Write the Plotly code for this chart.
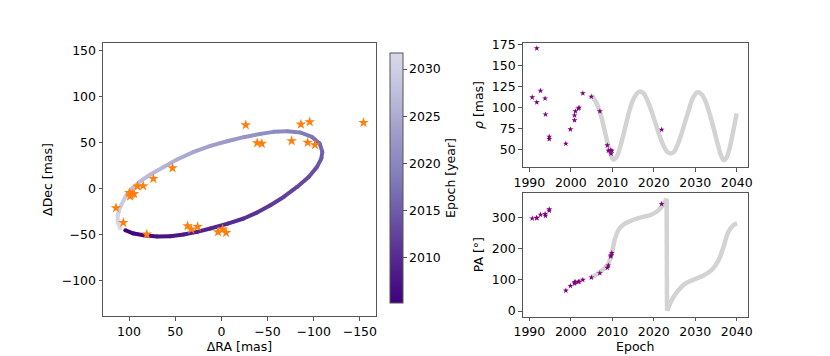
import numpy as np
import plotly.graph_objects as go
from plotly.colors import sample_colorscale

# relative astrometry, orange stars (mas)
ra_obs = [114.1, 106.2, 99.6, 98.2, 96.7, 98.9, 94.6, 90.9, 84.8, 73.6, 52.9, 80.8,
          36.6, 32.6, 25.7, 3.6, -1.4, -5.1, -26.4, -38.8, -43.8, -76.1, -86.2,
          -95.7, -93.5, -101.4, -154.0]
dec_obs = [-21.2, -37.2, -4.6, -7.1, -5.7, -8.4, -5.7, 2.5, 2.8, 10.8, 22.4, -49.9,
           -40.8, -44.5, -41.6, -47.4, -44.5, -48.2, 69.3, 49.7, 49.0, 51.9, 70.1,
           72.6, 50.1, 47.6, 71.8]

# orbit model read along the ellipse
orbit_epoch = [2005.2, 2005.9, 2006.5, 2007.2, 2007.7, 2008.4, 2008.9, 2009.4, 2010.0,
               2010.5, 2011.0, 2011.5, 2012.2, 2012.8, 2013.4, 2014.1, 2014.8, 2015.5,
               2016.5, 2017.6, 2018.9, 2020.0, 2020.8, 2021.3, 2022.0, 2022.8, 2023.6,
               2024.4, 2025.3, 2026.2, 2026.9, 2027.4, 2027.9, 2028.7, 2029.6, 2030.4,
               2031.1, 2031.7]
orbit_ra = [104.0, 95.0, 84.2, 69.6, 55.2, 40.8, 26.3, 11.9, -7.0, -24.2, -38.7, -53.1,
            -67.5, -82.0, -94.6, -103.6, -108.3, -109.4, -106.5, -98.2, -85.6, -71.2,
            -56.6, -42.2, -24.2, -6.2, 11.9, 30.0, 48.0, 62.5, 76.9, 87.7, 96.7, 104.0,
            109.4, 112.3, 112.3, 109.4]
orbit_dec = [-45.5, -49.1, -50.9, -52.4, -52.0, -50.2, -47.3, -43.6, -38.2, -32.7, -26.2,
             -18.2, -9.2, 1.7, 12.6, 23.6, 32.7, 39.9, 49.1, 56.3, 61.1, 62.5, 61.8, 59.6,
             56.0, 51.6, 46.5, 39.9, 31.6, 23.6, 15.3, 8.0, 0.0, -9.2, -20.1, -29.1,
             -36.4, -43.6]

# separation and position angle measurements
obs_epoch = [1990.7, 1991.8, 1991.8, 1992.7, 1993.8, 1993.9, 1994.8, 1994.8, 1998.8,
             1999.9, 2000.9, 2000.9, 2001.1, 2001.8, 2002.0, 2002.9, 2004.95, 2007.0,
             2008.8, 2009.05, 2009.6, 2009.7, 2009.9, 2021.9]
rho_obs = [112.1, 170.3, 106.2, 120.0, 110.9, 91.9, 65.4, 62.7, 57.1, 74.1, 84.8, 90.7,
           95.5, 99.0, 99.8, 116.9, 112.9, 95.5, 55.1, 48.8, 49.2, 45.3, 48.8, 73.7]
pa_obs = [296.8, 298.5, 297.5, 308.6, 310.8, 305.4, 321.5, 325.8, 65.6, 80.6, 88.2, 92.5,
          93.0, 93.5, 94.5, 100.0, 107.5, 121.5, 138.7, 146.0, 175.0, 178.5, 186.0, 343.0]

# model curves
rho_model_epoch = [2005.0, 2006.0, 2007.0, 2008.0, 2009.0, 2009.7, 2010.3, 2011.0, 2012.0,
                   2013.0, 2014.0, 2015.0, 2016.0, 2016.6, 2017.5, 2018.5, 2019.5, 2020.5,
                   2021.5, 2022.5, 2023.3, 2024.0, 2024.8, 2025.5, 2026.5, 2027.5, 2028.5,
                   2029.5, 2030.5, 2031.5, 2032.5, 2033.5, 2034.5, 2035.5, 2036.3, 2036.9,
                   2037.5, 2038.2, 2039.0, 2040.0]
rho_model = [114, 107, 95, 76, 55, 43, 38, 41, 55, 74, 94, 109, 117, 119, 117, 108, 95,
             80, 65, 53, 47, 45.5, 47, 53, 66, 82, 98, 112, 118, 116, 107, 92, 74, 55, 42,
             37.5, 40, 50, 68, 93]
pa_model_epoch = [2004.95, 2007.0, 2008.8, 2009.85, 2010.66, 2011.46, 2012.7, 2014.3,
                  2016.7, 2019.1, 2020.7, 2021.9, 2022.7, 2023.1, 2023.2, 2023.9, 2024.7,
                  2025.9, 2027.5, 2029.5, 2032.0, 2034.0, 2035.6, 2036.8, 2038.0, 2039.2,
                  2040.1]
pa_model = [106.5, 125, 146, 184, 232, 259, 277, 288, 299, 307.5, 318, 334, 350.5, 360,
            1, 22.6, 44, 65.6, 87, 100, 114, 132, 162, 205, 254, 275, 281]

PURPLES = [[0.0, "#3f007d"], [0.17, "#54278f"], [0.33, "#6a51a3"], [0.5, "#807dba"],
           [0.67, "#9e9ac8"], [0.83, "#bcbddc"], [1.0, "#dadaeb"]]
CMIN, CMAX = 2005.2, 2031.7

# page has an 8px body margin, so lay out in screen pixels minus that
OFF = 8
W, H = 830 - OFF, 356 - OFF


def px(x):
    return (x - OFF) / W


def py(y):
    return 1 - (y - OFF) / H


FONT = dict(family="DejaVu Sans", size=12.5, color="black")
AX = dict(showline=True, mirror=True, linecolor="#555", linewidth=1, ticks="outside",
          ticklen=3.5, tickcolor="#555", showgrid=False, zeroline=False, tickfont=FONT,
          automargin=False)

fig = go.Figure()

# orbit, one segment per pair of points coloured by epoch
for i in range(len(orbit_epoch) - 1):
    t = ((orbit_epoch[i] + orbit_epoch[i + 1]) / 2 - CMIN) / (CMAX - CMIN)
    c = sample_colorscale(PURPLES, [min(max(t, 0), 1)])[0]
    fig.add_trace(go.Scatter(
        x=orbit_ra[i:i + 2], y=orbit_dec[i:i + 2], mode="lines",
        line=dict(color=c, width=4), showlegend=False, hoverinfo="skip",
        xaxis="x", yaxis="y"))
fig.add_trace(go.Scatter(
    x=orbit_ra, y=orbit_dec, mode="markers", showlegend=False,
    marker=dict(size=4, color=orbit_epoch, colorscale=PURPLES, cmin=CMIN, cmax=CMAX,
                showscale=True, line=dict(width=0),
                colorbar=dict(x=px(390), xanchor="left", y=py(178), yanchor="middle",
                              len=250 / H, lenmode="fraction", thickness=13,
                              xpad=0, ypad=0, outlinecolor="#555", outlinewidth=1,
                              tickvals=[2010, 2015, 2020, 2025, 2030], ticks="outside",
                              ticklen=3.5, tickcolor="#555", tickfont=FONT,
                              title=dict(text="Epoch [year]", side="right", font=FONT))),
    xaxis="x", yaxis="y"))
fig.add_trace(go.Scatter(
    x=ra_obs, y=dec_obs, mode="markers", showlegend=False,
    marker=dict(symbol="star", size=8, color="#ff7f0e", line=dict(width=0)),
    xaxis="x", yaxis="y"))

# rho panel
fig.add_trace(go.Scatter(
    x=rho_model_epoch, y=rho_model, mode="lines", line_shape="spline",
    line=dict(color="#d3d3d3", width=4.5), showlegend=False, xaxis="x2", yaxis="y2"))
fig.add_trace(go.Scatter(
    x=obs_epoch, y=rho_obs, mode="markers", showlegend=False,
    marker=dict(symbol="star", size=4.5, color="purple", line=dict(width=0)),
    xaxis="x2", yaxis="y2"))

# PA panel, split at the 360 -> 0 wrap
pe = np.array(pa_model_epoch)
pv = np.array(pa_model)
cut = int(np.argmax(np.diff(pv) < -180)) + 1
for xs, ys, shape in [(pe[:cut], pv[:cut], "spline"),
                      (pe[cut - 1:cut + 1], pv[cut - 1:cut + 1], "linear"),
                      (pe[cut:], pv[cut:], "spline")]:
    fig.add_trace(go.Scatter(
        x=xs, y=ys, mode="lines", line_shape=shape,
        line=dict(color="#d3d3d3", width=4.5), showlegend=False, xaxis="x3", yaxis="y3"))
fig.add_trace(go.Scatter(
    x=obs_epoch, y=pa_obs, mode="markers", showlegend=False,
    marker=dict(symbol="star", size=4.5, color="purple", line=dict(width=0)),
    xaxis="x3", yaxis="y3"))

fig.update_layout(
    width=W, height=H,
    margin=dict(l=0, r=0, t=0, b=0),
    paper_bgcolor="white", plot_bgcolor="white",
    font=FONT,
    xaxis=dict(AX, domain=[px(103), px(376)], range=[128.2, -167.5],
               tickvals=[100, 50, 0, -50, -100, -150],
               ticktext=["100", "50", "0", "\u221250", "\u2212100", "\u2212150"],
               title=dict(text="\u0394RA [mas]", font=FONT, standoff=2)),
    yaxis=dict(AX, domain=[py(316), py(43)], range=[-139, 158.7],
               tickvals=[-100, -50, 0, 50, 100, 150],
               ticktext=["\u2212100", "\u221250", "0", "50", "100", "150"],
               title=dict(text="\u0394Dec [mas]", font=FONT, standoff=6)),
    xaxis2=dict(AX, domain=[px(522.7), px(747.7)], range=[1988.4, 2042.65],
                tickvals=[1990, 2000, 2010, 2020, 2030, 2040], anchor="y2"),
    yaxis2=dict(AX, domain=[py(167.3), py(42.7)], range=[29, 177],
                tickvals=[50, 75, 100, 125, 150, 175], anchor="x2",
                title=dict(text="<i>\u03c1</i> [mas]", font=FONT, standoff=5)),
    xaxis3=dict(AX, domain=[px(522.7), px(747.7)], range=[1988.4, 2042.65],
                tickvals=[1990, 2000, 2010, 2020, 2030, 2040], anchor="y3",
                title=dict(text="Epoch", font=FONT, standoff=2)),
    yaxis3=dict(AX, domain=[py(316.7), py(192.7)], range=[-18, 379],
                tickvals=[0, 100, 200, 300], anchor="x3",
                title=dict(text="PA [\u00b0]", font=FONT, standoff=5)),
)

fig.write_html("out.html")
